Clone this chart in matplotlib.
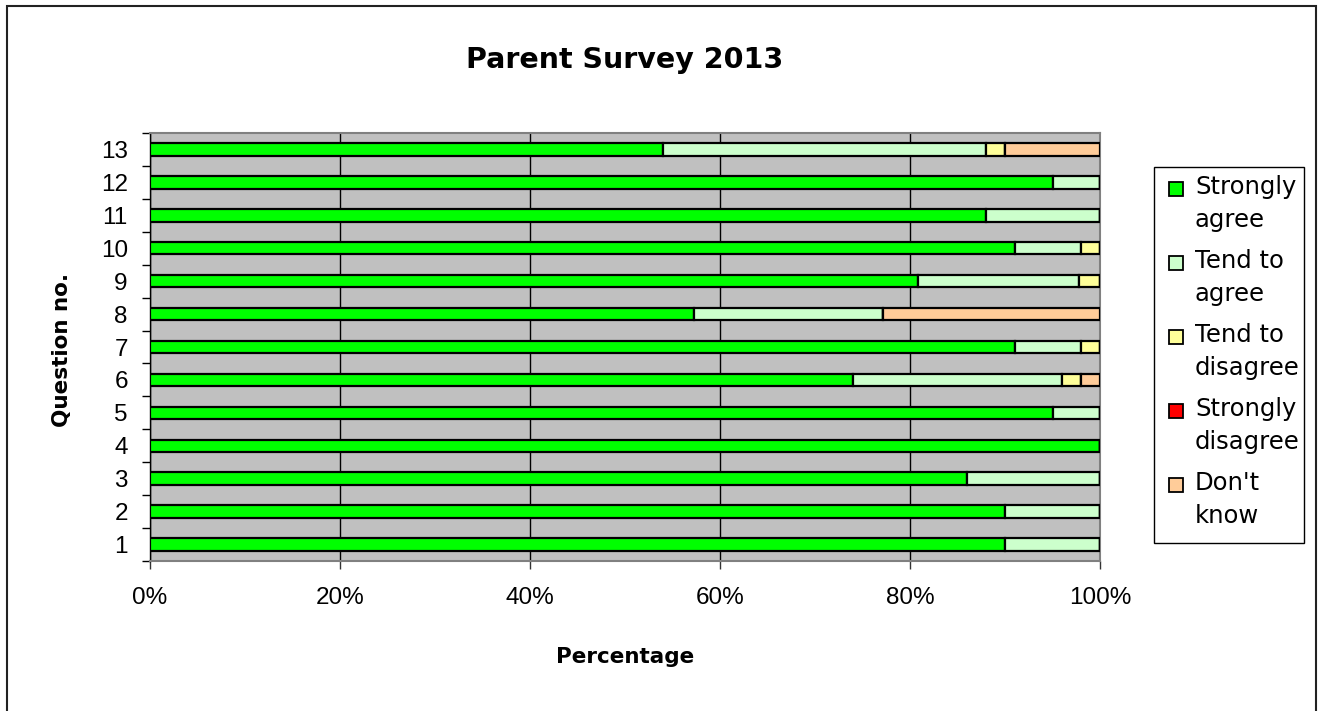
import numpy as np
import matplotlib
matplotlib.use('Agg')
import matplotlib.pyplot as plt
from matplotlib.patches import Rectangle

# data (percent), questions 1..13
questions = [str(i) for i in range(1, 14)]
strongly_agree = [90, 90, 86, 100, 95, 74, 91, 57.3, 80.8, 91, 88, 95, 54]
tend_agree = [10, 10, 14, 0, 5, 22, 7, 19.9, 17, 7, 12, 5, 34]
tend_disagree = [0, 0, 0, 0, 0, 2, 2, 0, 2.2, 2, 0, 0, 2]
strongly_disagree = [0] * 13
dont_know = [0, 0, 0, 0, 0, 2, 0, 22.8, 0, 0, 0, 0, 10]

series = [strongly_agree, tend_agree, tend_disagree, strongly_disagree, dont_know]
labels = ['Strongly\nagree', 'Tend to\nagree', 'Tend to\ndisagree', 'Strongly\ndisagree', "Don't\nknow"]
colors = ['#00FF00', '#CCFFCC', '#FFFF99', '#FF0000', '#FFCC99']

W, H = 1318, 711
fig = plt.figure(figsize=(W / 100, H / 100), dpi=100)
ax = fig.add_axes([150 / W, 1 - 561 / H, 950 / W, 428 / H])
ax.set_facecolor('#C0C0C0')

y = np.arange(len(questions))
left = np.zeros(len(questions))
for vals, col in zip(series, colors):
    ax.barh(y, vals, left=left, height=0.38, color=col, edgecolor='black', linewidth=1.6, zorder=3)
    left += np.array(vals)

ax.set_xlim(0, 100)
ax.set_ylim(-0.5, len(questions) - 0.5)

ax.set_xticks(np.arange(0, 101, 20))
ax.set_xticklabels(['%d%%' % v for v in range(0, 101, 20)], fontsize=17.5, family='Liberation Sans')
ax.tick_params(axis='x', length=6, width=1, color='#333333', pad=13)
ax.grid(axis='x', color='black', linewidth=1, zorder=1)

ax.set_yticks(np.arange(-0.5, len(questions), 1))
ax.set_yticklabels([])
ax.set_yticks(y, minor=True)
ax.set_yticklabels(questions, minor=True, fontsize=17.5, family='Liberation Sans')
ax.tick_params(axis='y', which='major', length=6, width=1, color='black')
ax.tick_params(axis='y', which='minor', length=0, pad=16)

for s in ['top', 'right', 'bottom']:
    ax.spines[s].set_color('#808080')
    ax.spines[s].set_linewidth(1.5)
ax.spines['left'].set_color('black')
ax.spines['left'].set_linewidth(1)

fig.text(0.5 * (150 + 1100) / W, 1 - 60 / H, 'Parent Survey 2013', ha='center', va='center',
         fontsize=20.5, fontweight='bold')
fig.text(625 / W, 1 - 657 / H, 'Percentage', ha='center', va='center', fontsize=15.5, fontweight='bold')
fig.text(62 / W, 1 - 350 / H, 'Question no.', ha='center', va='center', rotation=90,
         fontsize=15.5, fontweight='bold')

# legend box
fig.patches.append(Rectangle((1154 / W, 1 - 543 / H), 150 / W, 376 / H, transform=fig.transFigure,
                             facecolor='white', edgecolor='black', linewidth=1))
for i, (lab, col) in enumerate(zip(labels, colors)):
    yc = 189 + i * 74
    fig.patches.append(Rectangle((1169 / W, 1 - (yc + 7) / H), 14 / W, 14 / H, transform=fig.transFigure,
                                 facecolor=col, edgecolor='black', linewidth=1.3))
    fig.text(1195 / W, 1 - (yc - 14) / H, lab, ha='left', va='top', fontsize=17.5, linespacing=1.45)

# outer chart border
fig.patches.append(Rectangle((7 / W, -0.05), 1309 / W, 1.05 - 6 / H, transform=fig.transFigure,
                             facecolor='none', edgecolor='#222222', linewidth=1.5))

fig.savefig('out.png', dpi=100)
